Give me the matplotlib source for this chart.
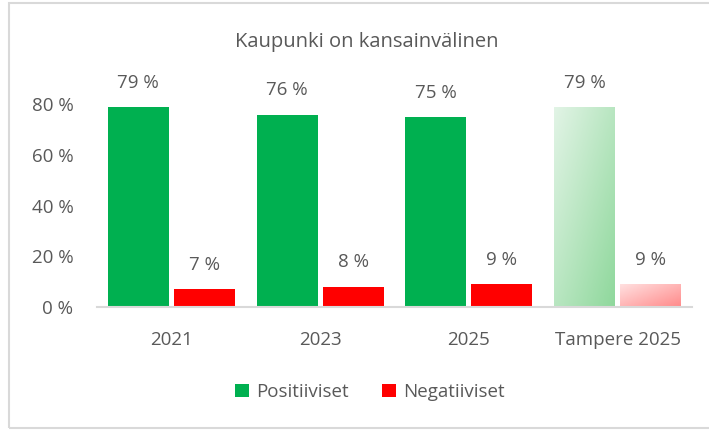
import numpy as np
import matplotlib.pyplot as plt
from matplotlib.patches import Rectangle
from matplotlib.colors import LinearSegmentedColormap

# Kaupunki on kansainvälinen - positiiviset / negatiiviset
kategoriat = ["2021", "2023", "2025", "Tampere 2025"]
positiiviset = [0.79, 0.76, 0.75, 0.79]
negatiiviset = [0.07, 0.08, 0.09, 0.09]
y_ticks = [0, 0.2, 0.4, 0.6, 0.8]

plt.rcParams['font.family'] = ['Open Sans', 'DejaVu Sans']
harmaa = "#595959"
vihrea = "#00B050"
punainen = "#FF0000"
fs = 13.5

fig = plt.figure(figsize=(7.09, 4.30), dpi=100)
# kehys (oikea reuna jää kuvan ulkopuolelle)
fig.patches.append(Rectangle((9/709, 2/430), 710/709, 425/430, transform=fig.transFigure,
                             fill=False, edgecolor="#D9D9D9", linewidth=1.5))
ax = fig.add_axes([97/709, 0.286, (692-97)/709, 0.53])

x = np.arange(len(kategoriat))
w = 0.41
d = 0.222

b1 = ax.bar(x - d, positiiviset, w, color=vihrea, label="Positiiviset")
b2 = ax.bar(x + d, negatiiviset, w, color=punainen, label="Negatiiviset")

# viimeinen ryhmä liukuvärillä
gx, gy = np.meshgrid(np.linspace(0, 1, 50), np.linspace(0, 1, 200))
grad = (gx + (1 - gy)) / 2
cm_g = LinearSegmentedColormap.from_list("g", ["#E2F4E6", "#8FD89C"])
cm_r = LinearSegmentedColormap.from_list("r", ["#FFE0E0", "#FF8A8A"])
for bar, cm in [(b1[-1], cm_g), (b2[-1], cm_r)]:
    bar.set_alpha(0)
    x0, y0 = bar.get_x(), bar.get_y()
    im = ax.imshow(grad, cmap=cm, extent=[x0, x0 + bar.get_width(), y0, y0 + bar.get_height()],
                   origin="lower", aspect="auto", zorder=2)
    clip = Rectangle((x0, y0), bar.get_width(), bar.get_height(), transform=ax.transData)
    im.set_clip_path(clip)

for bars, vals in [(b1, positiiviset), (b2, negatiiviset)]:
    for bar, v in zip(bars, vals):
        ax.annotate(f"{round(v*100)} %", (bar.get_x() + bar.get_width()/2, v),
                    xytext=(0, 11), textcoords="offset points", ha="center", va="bottom",
                    fontsize=fs, color=harmaa)

ax.set_xlim(-0.5, 3.5)
ax.set_ylim(0, 0.9)
ax.set_yticks(y_ticks)
ax.set_yticklabels([f"{int(t*100)} %" for t in y_ticks])
ax.set_xticks(x)
ax.set_xticklabels(kategoriat)
ax.tick_params(length=0, labelsize=fs, labelcolor=harmaa)
ax.tick_params(axis="x", pad=17)
ax.tick_params(axis="y", pad=17)
for s in ["top", "right", "left"]:
    ax.spines[s].set_visible(False)
ax.spines["bottom"].set_color("#D9D9D9")
ax.spines["bottom"].set_linewidth(1.5)

fig.text(367/709, 1 - 42/430, "Kaupunki on kansainvälinen", ha="center", va="center",
         fontsize=14.5, color=harmaa)
fig.legend(handles=[b1[0], b2[0]], labels=["Positiiviset", "Negatiiviset"],
           loc="center", bbox_to_anchor=(370/709, 1 - 392/430), ncol=2, frameon=False,
           fontsize=fs, labelcolor=harmaa, handlelength=0.7, handleheight=0.7,
           handletextpad=0.4, columnspacing=1.8)

fig.savefig("out.png", dpi=100)
